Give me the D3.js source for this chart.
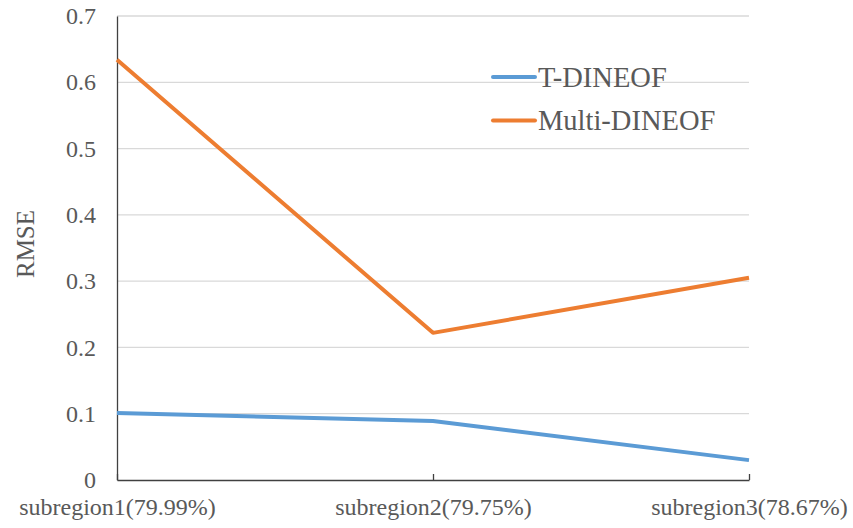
<!DOCTYPE html>
<html>
<head>
<meta charset="utf-8">
<script src="https://cdn.jsdelivr.net/npm/d3@7"></script>
<style>
  body { margin: 0; background: #fff; }
  svg { display: block; font-family: "Liberation Serif", "Times New Roman", serif; }
</style>
</head>
<body>
<div id="chart"></div>
<script>
var categories = ["subregion1(79.99%)", "subregion2(79.75%)", "subregion3(78.67%)"];
var tDineof = [0.101, 0.089, 0.030];
var multiDineof = [0.634, 0.222, 0.305];
var yTicks = [0, 0.1, 0.2, 0.3, 0.4, 0.5, 0.6, 0.7];
var seriesNames = ["T-DINEOF", "Multi-DINEOF"];
var colors = ["#5B9BD5", "#ED7D31"];

var width = 853, height = 528;
var margin = {top: 16, right: 104, bottom: 48, left: 117};
var w = width - margin.left - margin.right,
    h = height - margin.top - margin.bottom;

var svg = d3.select("#chart").append("svg")
    .attr("width", width)
    .attr("height", height);

var g = svg.append("g")
    .attr("transform", "translate(" + margin.left + "," + margin.top + ")");

var x = d3.scalePoint()
    .domain(categories)
    .range([0, w])
    .padding(0);

var y = d3.scaleLinear()
    .domain([0, 0.7])
    .range([h, 0]);

// gridlines
g.append("g")
    .selectAll("line")
    .data(yTicks.filter(function(d) { return d > 0; }))
    .enter().append("line")
    .attr("x1", 0)
    .attr("x2", w)
    .attr("y1", function(d) { return y(d); })
    .attr("y2", function(d) { return y(d); })
    .attr("stroke", "#d9d9d9")
    .attr("stroke-width", 1.3);

// y axis
var yAxis = g.append("g")
    .call(d3.axisLeft(y).tickValues(yTicks).tickSize(0).tickPadding(21)
        .tickFormat(function(d) { return d === 0 ? "0" : d3.format(".1f")(d); }));
yAxis.select(".domain").attr("stroke", "#404040").attr("stroke-width", 1.3);
yAxis.selectAll("text")
    .attr("fill", "#595959")
    .style("font-size", "24px")
    .style("font-family", "Liberation Serif");

// x axis
var xAxis = g.append("g")
    .attr("transform", "translate(0," + h + ")")
    .call(d3.axisBottom(x).tickSize(-6).tickSizeOuter(0).tickPadding(18));
xAxis.select(".domain").attr("stroke", "#404040").attr("stroke-width", 1.3);
xAxis.selectAll(".tick line").attr("stroke", "#404040").attr("stroke-width", 1.3);
xAxis.selectAll("text")
    .attr("fill", "#595959")
    .style("font-size", "24px")
    .style("font-family", "Liberation Serif");

// y axis title
svg.append("text")
    .attr("transform", "translate(34,244) rotate(-90)")
    .attr("text-anchor", "middle")
    .attr("fill", "#595959")
    .style("font-size", "25px")
    .text("RMSE");

// lines
var line = d3.line()
    .x(function(d, i) { return x(categories[i]); })
    .y(function(d) { return y(d); });

[tDineof, multiDineof].forEach(function(series, k) {
    g.append("path")
        .datum(series)
        .attr("fill", "none")
        .attr("stroke", colors[k])
        .attr("stroke-width", 4)
        .attr("stroke-linejoin", "round")
        .attr("d", line);
});

// legend
var legend = svg.append("g")
    .attr("transform", "translate(493,77)");

var items = legend.selectAll("g")
    .data(seriesNames)
    .enter().append("g")
    .attr("transform", function(d, i) { return "translate(0," + (i * 43.5) + ")"; });

items.append("line")
    .attr("x1", 0)
    .attr("x2", 42)
    .attr("stroke", function(d, i) { return colors[i]; })
    .attr("stroke-width", 4)
    .attr("stroke-linecap", "round");

items.append("text")
    .attr("x", 45)
    .attr("dy", "0.35em")
    .attr("fill", "#595959")
    .style("font-size", "28.5px")
    .text(function(d) { return d; });
</script>
</body>
</html>
